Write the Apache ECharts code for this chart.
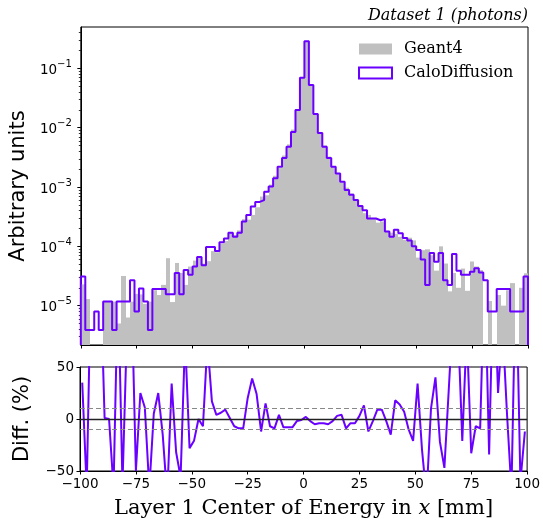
<!DOCTYPE html>
<html><head><meta charset="utf-8">
<script src="https://cdn.jsdelivr.net/npm/echarts@6/dist/echarts.min.js"></script>
<style>html,body{margin:0;padding:0;background:#fff}#c{width:543px;height:521px}</style>
</head><body><div id="c"></div>
<script>
// ---- data ----
const binLeft = [-100,-98,-96,-94,-92,-90,-88,-86,-84,-82,-80,-78,-76,-74,-72,-70,-68,-66,-64,-62,
  -60,-58,-56,-54,-52,-50,-48,-46,-44,-42,-40,-38,-36,-34,-32,-30,-28,-26,-24,-22,
  -20,-18,-16,-14,-12,-10,-8,-6,-4,-2,0,2,4,6,8,10,12,14,16,18,
  20,22,24,26,28,30,32,34,36,38,40,42,44,46,48,50,52,54,56,58,
  60,62,64,66,68,70,72,74,76,78,80,82,84,86,88,90,92,94,96,98];
const binWidth = 2;
const geant4 = [2.29e-5,1.29e-5,0,0,0,1.16e-5,1.17e-5,1.17e-5,5.01e-6,3.16e-5,
  6.31e-6,1.17e-5,1.58e-5,1.55e-5,1.07e-5,1.17e-5,1.82e-5,1.51e-5,2.24e-5,6.31e-5,
  1.15e-5,5.25e-5,3.55e-5,2.24e-5,4.57e-5,5.75e-5,6.61e-5,5.13e-5,5.62e-5,8.32e-5,
  7.94e-5,1.11e-4,1.23e-4,1.68e-4,1.55e-4,1.86e-4,2.88e-4,2.82e-4,3.39e-4,4.57e-4,
  6.92e-4,7.24e-4,1.10e-3,1.55e-3,2.09e-3,3.39e-3,5.25e-3,9.33e-3,2.04e-2,7.05e-2,
  0.284,5.37e-2,1.78e-2,8.51e-3,5.01e-3,3.27e-3,2.24e-3,1.66e-3,1.19e-3,9.77e-4,
  7.76e-4,6.31e-4,4.68e-4,3.63e-4,3.39e-4,3.02e-4,2.51e-4,2.63e-4,1.82e-4,1.70e-4,
  1.62e-4,1.45e-4,1.29e-4,1.40e-4,1.26e-4,6.46e-5,8.61e-5,8.91e-5,7.08e-5,3.89e-5,
  1.00e-4,5.13e-5,1.74e-5,3.55e-5,2.00e-5,4.22e-5,1.78e-5,5.56e-5,4.57e-5,3.98e-5,
  0,1.20e-5,0,1.51e-5,1.00e-5,1.82e-5,2.40e-5,0,2.00e-5,3.51e-5];
const caloDiffusion = [3.09e-5,3.89e-6,3.89e-6,7.94e-6,3.89e-6,1.17e-5,1.17e-5,3.89e-6,1.17e-5,1.17e-5,
  1.17e-5,2.69e-5,7.94e-6,1.95e-5,1.17e-5,3.89e-6,1.91e-5,1.91e-5,1.91e-5,1.55e-5,
  1.55e-5,3.55e-5,1.55e-5,3.98e-5,3.31e-5,4.57e-5,6.61e-5,4.79e-5,9.77e-5,9.77e-5,
  8.32e-5,1.17e-4,1.35e-4,1.70e-4,1.45e-4,1.70e-4,2.63e-4,3.39e-4,4.68e-4,5.62e-4,
  6.03e-4,8.32e-4,1.02e-3,1.41e-3,2.19e-3,3.09e-3,4.79e-3,8.51e-3,2.00e-2,7.00e-2,
  0.288,5.25e-2,1.70e-2,8.13e-3,4.79e-3,3.09e-3,2.19e-3,1.70e-3,1.23e-3,8.91e-4,
  7.41e-4,6.03e-4,4.79e-4,4.07e-4,2.95e-4,2.95e-4,2.75e-4,2.88e-4,1.78e-4,1.45e-4,
  1.91e-4,1.66e-4,1.38e-4,1.26e-4,1.00e-4,8.71e-5,6.03e-5,2.24e-5,7.76e-5,5.50e-5,
  7.76e-5,2.69e-5,2.24e-5,7.41e-5,3.89e-5,3.31e-5,3.31e-5,3.72e-5,4.27e-5,3.63e-5,
  2.69e-5,7.94e-6,7.94e-6,1.91e-5,1.91e-5,1.91e-5,7.94e-6,7.94e-6,7.94e-6,3.09e-5];
const diffPct = [35,-67,150,150,150,1,0,-67,134,-63,
  86,129,-50,25,11,-67,5,25,-15,-75,
  34,-32,-56,78,-28,-21,0,-7,74,17,
  4,6,9,1,-7,-9,-9,20,39,24,
  -12,15,-7,-9,4,-8,-8,-8,-2,-1,
  2,-2,-5,-4,-4,-5,-2,3,4,-9,
  -4,-4,3,13,-12,-2,9,9,-2,-15,
  18,14,7,-10,-21,34,-30,-75,10,40,
  -22,-47,30,109,95,-21,86,-33,-7,-9,
  150,-34,150,25,90,5,-69,150,-60,-12];
const xTicks = [-100,-75,-50,-25,0,25,50,75,100];
const yMajorTicks = [1e-5,1e-4,1e-3,1e-2,1e-1];
const yMinorTicks = [3e-6,4e-6,5e-6,6e-6,7e-6,8e-6,9e-6,
  2e-5,3e-5,4e-5,5e-5,6e-5,7e-5,8e-5,9e-5,
  2e-4,3e-4,4e-4,5e-4,6e-4,7e-4,8e-4,9e-4,
  2e-3,3e-3,4e-3,5e-3,6e-3,7e-3,8e-3,9e-3,
  2e-2,3e-2,4e-2,5e-2,6e-2,7e-2,8e-2,9e-2,
  2e-1,3e-1,4e-1];
const diffRefLines = [10, 0, -10];
const Y_MIN = 2.17e-6, Y_MAX = 0.5;

// ---- build ----
const PURPLE = '#6a00ff', GREY = '#c0c0c0';
const SANS = 'DejaVu Sans', SERIF = 'DejaVu Serif';
function logLabel(v){const e=Math.round(Math.log10(v));return '{b|10}{s|'+String(e).replace('-','\u2212')+'}';}
function minus(v){return String(v).replace('-','\u2212');}

const histData = [];
binLeft.forEach((x,i)=>{ if (geant4[i] > 0) histData.push([x, x+binWidth, geant4[i]]); });
const stepData = [[binLeft[0], Y_MIN]];
binLeft.forEach((x,i)=>stepData.push([x, caloDiffusion[i]]));
stepData.push([binLeft[binLeft.length-1]+binWidth, caloDiffusion[caloDiffusion.length-1]]);
stepData.push([binLeft[binLeft.length-1]+binWidth, Y_MIN]);
const diffData = binLeft.map((x,i)=>[x+binWidth/2, diffPct[i]]);

const axisCommon = {
  axisLine:{onZero:false, lineStyle:{color:'#000',width:1}},
  axisTick:{lineStyle:{color:'#000',width:1},length:3.5},
  splitLine:{show:false}
};
const chart = echarts.init(document.getElementById('c'), null, {renderer:'canvas'});
chart.setOption({
  animation:false,
  backgroundColor:'#fff',
  title:{text:'Dataset 1 (photons)', right:15, top:8, padding:0,
    textStyle:{fontFamily:SERIF, fontStyle:'italic', fontWeight:'normal', fontSize:16, color:'#000'}},
  legend:{orient:'vertical', left:358, top:41, padding:0, itemWidth:33, itemHeight:11, itemGap:8,
    textStyle:{fontFamily:SERIF, fontSize:16, color:'#000', padding:[0,0,0,7]},
    data:[{name:'Geant4', icon:'rect', itemStyle:{color:GREY, borderWidth:0}},
          {name:'CaloDiffusion', icon:'rect', itemStyle:{color:'rgba(255,255,255,0)', borderColor:PURPLE, borderWidth:2}}]},
  grid:[{left:80, top:27, width:448, height:318, show:true, borderColor:'#000', borderWidth:1, backgroundColor:'transparent'},
        {left:80, top:367, width:448, height:104, show:true, borderColor:'#000', borderWidth:1, backgroundColor:'transparent'}],
  xAxis:[
    Object.assign({}, axisCommon, {gridIndex:0, type:'value', min:-100, max:100, interval:25, axisLabel:{show:false}}),
    Object.assign({}, axisCommon, {gridIndex:1, type:'value', min:-100, max:100, interval:25,
      axisLabel:{fontFamily:SANS, fontSize:13.5, color:'#000', margin:6, formatter:minus},
      name:'Layer 1 Center of Energy in {i|x} [mm]', nameLocation:'middle', nameGap:27,
      nameTextStyle:{fontFamily:SERIF, fontSize:21, color:'#000',
        rich:{i:{fontFamily:SERIF, fontStyle:'italic', fontSize:21, color:'#000'}}}})
  ],
  yAxis:[
    Object.assign({}, axisCommon, {gridIndex:0, type:'log', min:Y_MIN, max:Y_MAX, position:'left',
      axisTick:{lineStyle:{color:'#000',width:1}, length:3.5, customValues:yMajorTicks},
      axisLabel:{color:'#000', margin:9, customValues:yMajorTicks, formatter:logLabel,
        rich:{b:{fontFamily:SANS, fontSize:13.5, color:'#000', verticalAlign:'bottom', lineHeight:18},
              s:{fontFamily:SANS, fontSize:10, color:'#000', verticalAlign:'top', lineHeight:18}}},
      name:'Arbitrary units', nameLocation:'middle', nameGap:47,
      nameTextStyle:{fontFamily:SANS, fontSize:21, color:'#000'}}),
    {gridIndex:0, type:'log', min:Y_MIN, max:Y_MAX, position:'left',
      axisLine:{show:false, onZero:false}, axisLabel:{show:false}, splitLine:{show:false},
      axisTick:{lineStyle:{color:'#000',width:0.8}, length:2, customValues:yMinorTicks}},
    Object.assign({}, axisCommon, {gridIndex:1, type:'value', min:-50, max:50, interval:50,
      axisLabel:{fontFamily:SANS, fontSize:13.5, color:'#000', margin:6, formatter:minus},
      name:'Diff. (%)', nameLocation:'middle', nameGap:47,
      nameTextStyle:{fontFamily:SANS, fontSize:21, color:'#000'}})
  ],
  series:[
    {name:'Geant4', type:'custom', xAxisIndex:0, yAxisIndex:0, clip:true,
      encode:{x:[0,1], y:2}, data:histData, itemStyle:{color:GREY},
      renderItem:function(params, api){
        const p0 = api.coord([api.value(0), api.value(2)]);
        const p1 = api.coord([api.value(1), Y_MIN]);
        const x0 = Math.round(p0[0]), x1 = Math.round(p1[0]);
        return {type:'rect', shape:{x:x0, y:p0[1], width:x1-x0, height:p1[1]-p0[1]},
          style:{fill:GREY}};
      }},
    {name:'CaloDiffusion', type:'line', xAxisIndex:0, yAxisIndex:0, step:'end', data:stepData,
      showSymbol:false, symbol:'none', clip:true, lineStyle:{color:PURPLE, width:2}, itemStyle:{color:PURPLE}, z:3},
    {name:'diff', type:'line', xAxisIndex:1, yAxisIndex:2, data:diffData, showSymbol:false, symbol:'none', clip:true,
      lineStyle:{color:PURPLE, width:2}, itemStyle:{color:PURPLE}, z:3,
      markLine:{silent:true, symbol:['none','none'], label:{show:false},
        data: diffRefLines.map(v=>({yAxis:v, lineStyle: v===0 ? {type:'solid', color:'#222', width:1.3} : {type:[5,3], color:'#888', width:1}}))}}
  ]
});
</script></body></html>
